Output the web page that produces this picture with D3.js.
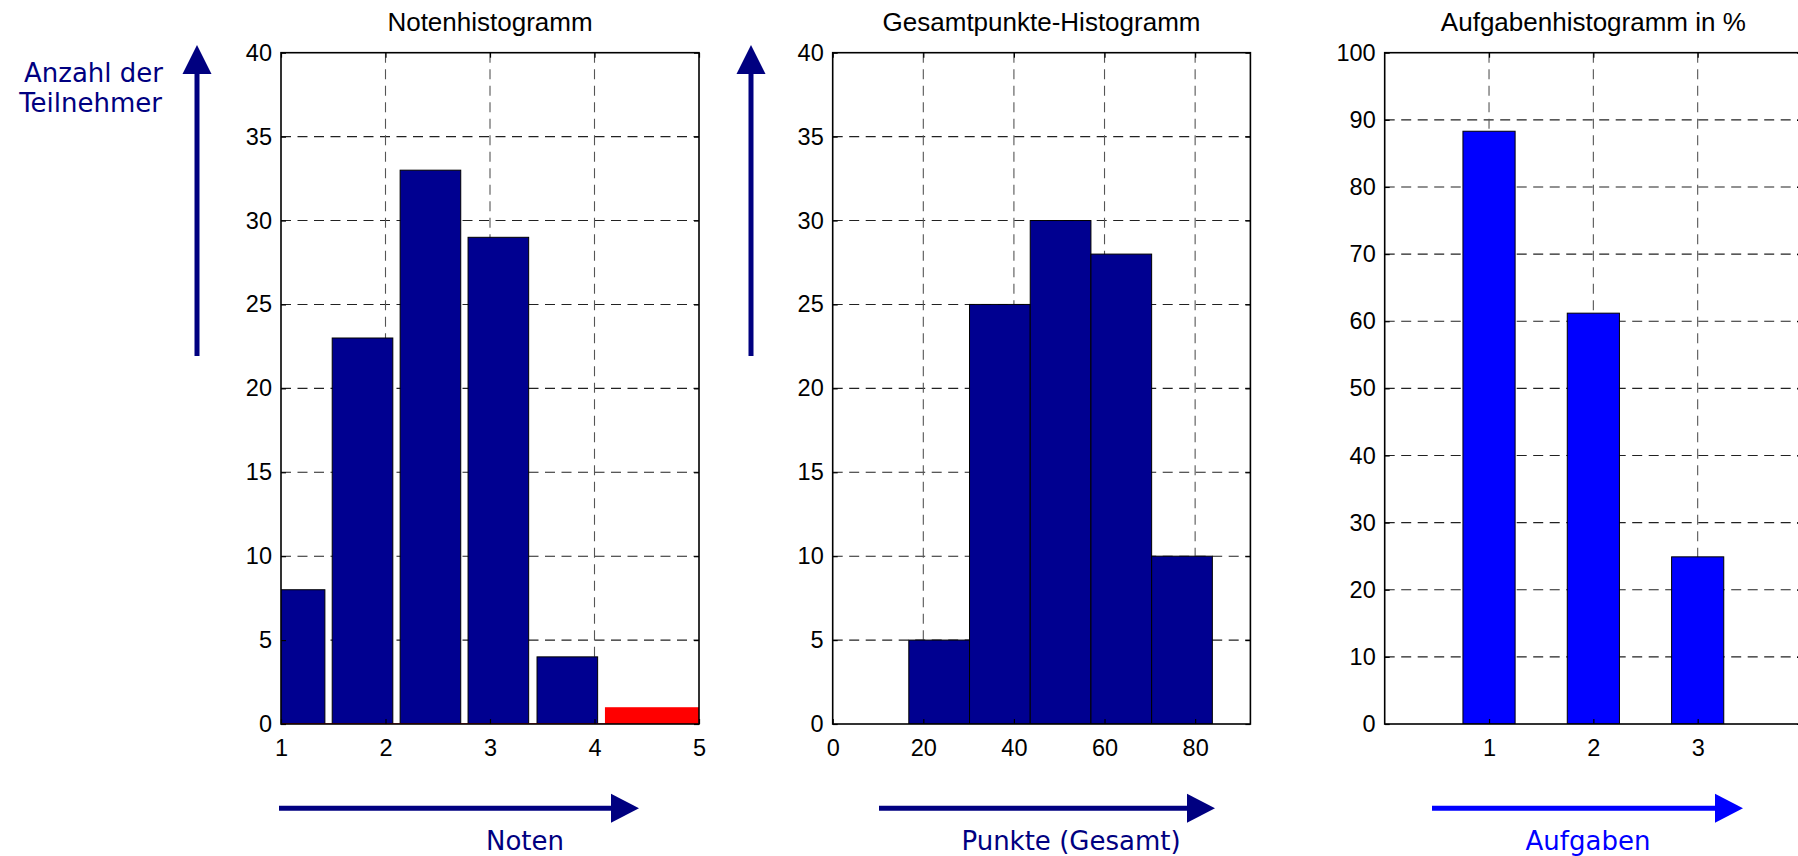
<!DOCTYPE html>
<html>
<head>
<meta charset="utf-8">
<script src="https://cdn.jsdelivr.net/npm/d3@7"></script>
<style>
  html, body { margin: 0; padding: 0; background: #fff; }
  svg { display: block; }
  .tick text { font-family: "Liberation Sans", Arial, sans-serif; font-size: 23.5px; fill: #000; }
  .title { font-family: "Liberation Sans", Arial, sans-serif; font-size: 26px; fill: #000; text-anchor: middle; }
  .note { font-family: "DejaVu Sans", Verdana, sans-serif; font-size: 26px; }
</style>
</head>
<body>
<div id="chart"></div>
<script>
// ===== Daten =====
// Notenhistogramm
const notenCenters = [1.13, 1.78, 2.43, 3.08, 3.74];
const notenCounts = [8, 23, 33, 29, 4];
const notenFail = { x0: 4.1, x1: 5, count: 1 };
const notenTicks = [1, 2, 3, 4, 5];

// Gesamtpunkte-Histogramm
const punkteEdges = [16.8, 30.2, 43.6, 57.0, 70.4, 83.8];
const punkteCounts = [5, 25, 30, 28, 10];
const punkteTicks = [0, 20, 40, 60, 80];

// Aufgabenhistogramm in %
const aufgaben = [1, 2, 3];
const aufgabenProzent = [88.3, 61.2, 24.9];

const countTicks = [0, 5, 10, 15, 20, 25, 30, 35, 40];
const percentTicks = [0, 10, 20, 30, 40, 50, 60, 70, 80, 90, 100];

// ===== Layout =====
const W = 1798, H = 856;
const plotTop = 52.7, plotBottom = 724;
const navy = '#000090';
const arrowNavy = '#000080';

const svg = d3.select('#chart').append('svg')
  .attr('width', W)
  .attr('height', H);

const defs = svg.append('defs');

// Ein Panel: Gitter, Clip-Bereich, Titel
function panel(id, left, right, xDomain, yDomain, xTicks, yTicks, xGrid, title) {
  const x = d3.scaleLinear().domain(xDomain).range([left, right]);
  const y = d3.scaleLinear().domain(yDomain).range([plotBottom, plotTop]);
  const g = svg.append('g');

  defs.append('clipPath').attr('id', id)
    .append('rect')
    .attr('x', left).attr('y', plotTop)
    .attr('width', right - left).attr('height', plotBottom - plotTop);

  const grid = g.append('g')
    .attr('stroke-width', 1.1)
    .attr('stroke-dasharray', '10,6.5');

  grid.selectAll('line.h')
    .data(yTicks.filter(t => t !== yDomain[0] && t !== yDomain[1]))
    .enter().append('line')
    .attr('stroke', '#222')
    .attr('x1', left).attr('x2', right)
    .attr('y1', d => y(d)).attr('y2', d => y(d));

  grid.selectAll('line.v')
    .data(xGrid)
    .enter().append('line')
    .attr('stroke', '#555')
    .attr('x1', d => x(d)).attr('x2', d => x(d))
    .attr('y1', plotTop).attr('y2', plotBottom);

  const marks = g.append('g').attr('clip-path', `url(#${id})`);

  svg.append('text')
    .attr('class', 'title')
    .attr('x', (left + right) / 2)
    .attr('y', 31)
    .text(title);

  return { x, y, g, marks, left, right, xTicks, yTicks };
}

// Rahmen mit Ticks nach innen (wie MATLAB)
function frame(p) {
  const { x, y, g, left, right, xTicks, yTicks } = p;
  const axes = g.append('g');

  axes.append('g')
    .attr('transform', `translate(${left},0)`)
    .call(d3.axisLeft(y).tickValues(yTicks).tickSize(-5).tickSizeOuter(0).tickPadding(9).tickFormat(d3.format('d')));

  axes.append('g')
    .attr('transform', `translate(${right},0)`)
    .call(d3.axisRight(y).tickValues(yTicks).tickSize(-5).tickSizeOuter(0).tickFormat(''));

  axes.append('g')
    .attr('transform', `translate(0,${plotBottom})`)
    .call(d3.axisBottom(x).tickValues(xTicks).tickSize(-5).tickSizeOuter(0).tickPadding(15).tickFormat(d3.format('d')));

  axes.append('g')
    .attr('transform', `translate(0,${plotTop})`)
    .call(d3.axisTop(x).tickValues(xTicks).tickSize(-5).tickSizeOuter(0).tickFormat(''));

  axes.selectAll('.domain').remove();
  axes.selectAll('.tick line').attr('stroke', '#000').attr('stroke-width', 1.2);

  g.append('rect')
    .attr('x', left).attr('y', plotTop)
    .attr('width', right - left).attr('height', plotBottom - plotTop)
    .attr('fill', 'none')
    .attr('stroke', '#000')
    .attr('stroke-width', 1.6);
}

function upArrow(cx, color) {
  svg.append('line')
    .attr('x1', cx).attr('x2', cx)
    .attr('y1', 356).attr('y2', 72)
    .attr('stroke', color).attr('stroke-width', 5);
  svg.append('path')
    .attr('d', `M${cx},45 L${cx + 14.5},74 L${cx - 14.5},74 Z`)
    .attr('fill', color);
}

function rightArrow(x0, x1, cy, color) {
  svg.append('line')
    .attr('x1', x0).attr('x2', x1 - 27)
    .attr('y1', cy).attr('y2', cy)
    .attr('stroke', color).attr('stroke-width', 5);
  svg.append('path')
    .attr('d', `M${x1},${cy} L${x1 - 28},${cy - 14.5} L${x1 - 28},${cy + 14.5} Z`)
    .attr('fill', color);
}

// ===== Panel 1: Noten =====
const p1 = panel('clip1', 281, 699, [1, 5], [0, 40], notenTicks, countTicks, [2, 3, 4], 'Notenhistogramm');
const bw1 = 0.58;
p1.marks.selectAll('rect.bar')
  .data(notenCenters.map((c, i) => ({ c, v: notenCounts[i] })))
  .enter().append('rect')
  .attr('x', d => p1.x(d.c - bw1 / 2))
  .attr('width', d => p1.x(d.c + bw1 / 2) - p1.x(d.c - bw1 / 2))
  .attr('y', d => p1.y(d.v))
  .attr('height', d => p1.y(0) - p1.y(d.v))
  .attr('fill', navy)
  .attr('stroke', '#000')
  .attr('stroke-width', 1);

p1.marks.append('rect')
  .attr('x', p1.x(notenFail.x0))
  .attr('width', p1.x(notenFail.x1) - p1.x(notenFail.x0) + 2)
  .attr('y', p1.y(notenFail.count))
  .attr('height', p1.y(0) - p1.y(notenFail.count))
  .attr('fill', '#ff0000');

p1.marks.append('line')
  .attr('x1', p1.x(1)).attr('x2', p1.x(notenFail.x0))
  .attr('y1', p1.y(0)).attr('y2', p1.y(0))
  .attr('stroke', '#ff0000').attr('stroke-width', 1.5);
frame(p1);

// ===== Panel 2: Gesamtpunkte =====
const p2 = panel('clip2', 832.7, 1250.4, [0, 92.2], [0, 40], punkteTicks, countTicks, [20, 40, 60, 80], 'Gesamtpunkte-Histogramm');
p2.marks.selectAll('rect.bar')
  .data(punkteCounts.map((v, i) => ({ x0: punkteEdges[i], x1: punkteEdges[i + 1], v })))
  .enter().append('rect')
  .attr('x', d => p2.x(d.x0))
  .attr('width', d => p2.x(d.x1) - p2.x(d.x0))
  .attr('y', d => p2.y(d.v))
  .attr('height', d => p2.y(0) - p2.y(d.v))
  .attr('fill', navy)
  .attr('stroke', '#000')
  .attr('stroke-width', 1);
frame(p2);

// ===== Panel 3: Aufgaben =====
const p3 = panel('clip3', 1384.7, 1802, [0, 4], [0, 100], aufgaben, percentTicks, [1, 2, 3, 4], 'Aufgabenhistogramm in %');
const bw3 = 0.5;
p3.marks.selectAll('rect.bar')
  .data(aufgaben.map((a, i) => ({ a, v: aufgabenProzent[i] })))
  .enter().append('rect')
  .attr('x', d => p3.x(d.a - bw3 / 2))
  .attr('width', d => p3.x(d.a + bw3 / 2) - p3.x(d.a - bw3 / 2))
  .attr('y', d => p3.y(d.v))
  .attr('height', d => p3.y(0) - p3.y(d.v))
  .attr('fill', '#0000ff')
  .attr('stroke', '#000')
  .attr('stroke-width', 1);
frame(p3);

// ===== Pfeile und Beschriftungen =====
upArrow(197, arrowNavy);
upArrow(751, arrowNavy);

svg.append('text').attr('class', 'note')
  .attr('x', 163).attr('y', 81.5)
  .attr('text-anchor', 'end').attr('fill', arrowNavy)
  .text('Anzahl der');
svg.append('text').attr('class', 'note')
  .attr('x', 162).attr('y', 111.7)
  .attr('text-anchor', 'end').attr('fill', arrowNavy)
  .text('Teilnehmer');

rightArrow(279, 639, 808.3, arrowNavy);
rightArrow(879, 1215, 808.3, arrowNavy);
rightArrow(1432, 1743, 808.3, '#0000ff');

svg.append('text').attr('class', 'note')
  .attr('x', 525).attr('y', 850).attr('text-anchor', 'middle').attr('fill', arrowNavy)
  .text('Noten');
svg.append('text').attr('class', 'note')
  .attr('x', 1071).attr('y', 850).attr('text-anchor', 'middle').attr('fill', arrowNavy)
  .text('Punkte (Gesamt)');
svg.append('text').attr('class', 'note')
  .attr('x', 1588).attr('y', 850).attr('text-anchor', 'middle').attr('fill', '#0000ff')
  .text('Aufgaben');
</script>
</body>
</html>
